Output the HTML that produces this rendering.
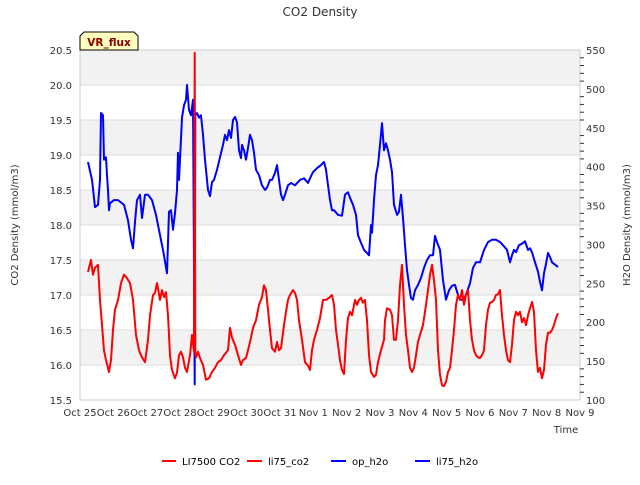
<!DOCTYPE html>
<html><head><meta charset="utf-8"><style>
body{margin:0;background:#fff}
svg{font-family:"DejaVu Sans","Liberation Sans",sans-serif}
</style></head><body>
<svg id="chart" width="640" height="480">
<text x="320" y="16" text-anchor="middle" font-size="12" fill="#333">CO2 Density</text>
<g id="bands"></g>
<g id="grid"></g>
<rect x="80" y="50" width="500" height="350" fill="none" stroke="#ccc"/>
<g id="axes"></g>
<g id="series"></g>
<text transform="translate(18,225) rotate(-90)" text-anchor="middle" font-size="10" fill="#333">CO2 Density (mmol/m3)</text>
<text transform="translate(630,225) rotate(-90)" text-anchor="middle" font-size="10" fill="#333">H2O Density (mmol/m3)</text>
<text x="566" y="433" text-anchor="middle" font-size="10" fill="#333">Time</text>
<g>
<path d="M80,50 L80,36 L84,32 L134,32 L138,36 L138,50 Z" fill="#ffffc0" stroke="#000"/>
<text x="109" y="46" text-anchor="middle" font-size="10.5" font-weight="bold" fill="#8b0000">VR_flux</text>
</g>
<g font-size="10">
<g><line x1="162" y1="461" x2="176" y2="461" stroke="#f00" stroke-width="2"/><text x="182" y="465">LI7500 CO2</text></g>
<g><line x1="247" y1="461" x2="262" y2="461" stroke="#f00" stroke-width="2"/><text x="268" y="465">li75_co2</text></g>
<g><line x1="331" y1="461" x2="346" y2="461" stroke="#00f" stroke-width="2"/><text x="352" y="465">op_h2o</text></g>
<g><line x1="415" y1="461" x2="430" y2="461" stroke="#00f" stroke-width="2"/><text x="436" y="465">li75_h2o</text></g>
</g>
</svg>
<script>
const xTickLabels=["Oct 25","Oct 26","Oct 27","Oct 28","Oct 29","Oct 30","Oct 31","Nov 1","Nov 2","Nov 3","Nov 4","Nov 5","Nov 6","Nov 7","Nov 8","Nov 9"];
const leftTicks=[15.5,16.0,16.5,17.0,17.5,18.0,18.5,19.0,19.5,20.0,20.5];
const rightTicks=[100,150,200,250,300,350,400,450,500,550];
const h2oDays=[0.24,0.36,0.45,0.54,0.60,0.63,0.69,0.72,0.78,0.81,0.84,0.87,0.90,1.02,1.14,1.32,1.44,1.53,1.59,1.65,1.71,1.80,1.86,1.95,2.04,2.16,2.28,2.40,2.49,2.61,2.67,2.73,2.79,2.85,2.91,2.94,2.97,3.06,3.12,3.18,3.21,3.27,3.33,3.39,3.44,3.46,3.51,3.57,3.63,3.69,3.75,3.84,3.90,3.96,4.02,4.11,4.20,4.29,4.35,4.41,4.47,4.53,4.59,4.65,4.71,4.77,4.83,4.86,4.92,4.98,5.04,5.10,5.16,5.22,5.28,5.37,5.46,5.55,5.61,5.70,5.76,5.85,5.91,5.97,6.03,6.09,6.15,6.24,6.33,6.45,6.60,6.72,6.84,6.90,6.99,7.11,7.23,7.32,7.38,7.44,7.50,7.56,7.62,7.74,7.86,7.95,8.04,8.10,8.19,8.28,8.34,8.43,8.52,8.61,8.67,8.73,8.76,8.82,8.88,8.94,9.00,9.06,9.12,9.18,9.24,9.30,9.36,9.42,9.51,9.57,9.63,9.69,9.75,9.81,9.87,9.93,9.99,10.05,10.14,10.23,10.32,10.41,10.50,10.59,10.65,10.71,10.80,10.89,10.98,11.07,11.16,11.25,11.37,11.43,11.52,11.61,11.70,11.79,11.88,12.00,12.12,12.24,12.36,12.48,12.60,12.69,12.81,12.90,12.96,13.02,13.08,13.17,13.26,13.35,13.44,13.50,13.56,13.65,13.74,13.80,13.86,13.92,13.98,14.04,14.10,14.16,14.25,14.34];
const h2oValues=[406,383,348,351,383,469,466,409,412,389,370,344,353,357,357,351,331,306,295,329,357,364,334,364,364,357,338,312,293,263,342,344,319,340,370,418,383,463,479,486,505,473,466,486,120,466,469,463,466,441,409,370,362,380,383,396,412,428,441,434,447,437,460,464,457,421,411,428,421,409,424,441,434,418,396,389,376,370,373,383,383,392,402,383,364,357,364,376,379,376,383,385,379,385,393,398,402,406,396,376,357,344,344,338,337,364,367,360,351,338,312,302,293,289,286,325,315,357,389,402,428,456,421,430,421,409,393,351,338,342,364,334,299,267,248,231,229,241,248,257,270,280,286,286,311,303,293,254,229,241,247,248,231,229,229,239,250,270,277,277,293,303,306,306,303,299,293,277,286,293,290,299,301,304,293,295,290,277,265,252,241,263,275,289,284,277,274,271];
const co2Days=[0.24,0.33,0.39,0.45,0.54,0.60,0.66,0.72,0.78,0.87,0.93,0.99,1.05,1.14,1.23,1.32,1.41,1.50,1.59,1.68,1.77,1.86,1.95,2.04,2.10,2.19,2.25,2.31,2.40,2.46,2.52,2.58,2.64,2.70,2.76,2.85,2.91,2.97,3.03,3.09,3.15,3.21,3.30,3.36,3.42,3.44,3.46,3.48,3.54,3.60,3.69,3.78,3.87,3.96,4.05,4.14,4.23,4.32,4.44,4.50,4.56,4.65,4.74,4.83,4.89,4.98,5.04,5.13,5.19,5.28,5.37,5.46,5.52,5.58,5.64,5.70,5.76,5.85,5.91,5.97,6.03,6.12,6.18,6.24,6.30,6.39,6.45,6.51,6.57,6.66,6.75,6.84,6.90,6.96,7.02,7.11,7.20,7.29,7.38,7.47,7.56,7.62,7.68,7.74,7.80,7.86,7.92,7.98,8.04,8.10,8.16,8.25,8.31,8.37,8.43,8.49,8.55,8.61,8.67,8.73,8.82,8.88,8.94,9.03,9.12,9.15,9.21,9.30,9.36,9.42,9.48,9.54,9.60,9.66,9.72,9.78,9.84,9.90,9.96,10.02,10.08,10.14,10.20,10.29,10.38,10.44,10.50,10.56,10.62,10.68,10.74,10.80,10.86,10.92,10.98,11.04,11.10,11.16,11.22,11.28,11.34,11.40,11.46,11.52,11.58,11.64,11.70,11.76,11.82,11.88,11.94,12.00,12.06,12.12,12.18,12.24,12.30,12.36,12.42,12.48,12.54,12.60,12.66,12.72,12.78,12.84,12.90,12.96,13.02,13.08,13.14,13.20,13.26,13.32,13.38,13.44,13.50,13.56,13.62,13.68,13.74,13.80,13.86,13.92,13.98,14.04,14.10,14.16,14.22,14.28,14.34];
const co2Values=[17.33,17.50,17.29,17.39,17.43,16.93,16.57,16.21,16.07,15.90,16.07,16.50,16.79,16.93,17.17,17.29,17.24,17.17,16.93,16.43,16.21,16.11,16.04,16.36,16.71,17.00,17.03,17.17,16.93,17.07,16.97,17.04,16.71,16.14,15.93,15.81,15.89,16.14,16.19,16.11,15.96,15.90,16.14,16.43,16.19,20.46,16.19,16.11,16.19,16.10,16.00,15.79,15.81,15.90,15.96,16.04,16.07,16.14,16.21,16.53,16.39,16.29,16.14,16.00,16.07,16.10,16.21,16.39,16.53,16.64,16.86,16.97,17.14,17.07,16.79,16.50,16.24,16.19,16.33,16.21,16.24,16.57,16.76,16.93,17.00,17.07,17.03,16.93,16.64,16.36,16.04,15.99,15.93,16.21,16.36,16.50,16.67,16.93,16.93,16.96,17.00,16.86,16.50,16.29,16.07,15.93,15.87,16.36,16.67,16.76,16.71,16.93,16.86,16.93,16.96,16.89,16.93,16.64,16.14,15.90,15.83,15.86,16.04,16.21,16.36,16.64,16.81,16.79,16.71,16.36,16.36,16.64,17.14,17.43,16.86,16.43,16.21,15.96,15.90,15.96,16.14,16.33,16.43,16.57,16.86,17.07,17.29,17.43,17.21,16.93,16.21,15.86,15.71,15.70,15.76,15.90,15.96,16.21,16.50,16.86,17.00,16.93,17.07,16.86,17.00,17.07,16.64,16.36,16.21,16.14,16.11,16.10,16.14,16.21,16.57,16.79,16.89,16.90,16.93,17.00,17.01,17.07,16.71,16.43,16.21,16.07,16.04,16.29,16.64,16.76,16.71,16.76,16.61,16.67,16.57,16.71,16.81,16.90,16.76,16.21,15.90,15.96,15.81,15.93,16.29,16.46,16.46,16.50,16.57,16.67,16.74];

const NS="http://www.w3.org/2000/svg";
const L=80,R=580,T=50,B=400;
const xS=d=>L+d*(R-L)/15;
const yL=v=>B-(v-15.5)*(B-T)/5;
const yR=v=>B-(v-100)*(B-T)/450;
function mk(tag,attrs,parent){const e=document.createElementNS(NS,tag);for(const k in attrs)e.setAttribute(k,attrs[k]);parent.appendChild(e);return e;}
const bands=document.getElementById('bands'),grid=document.getElementById('grid'),axes=document.getElementById('axes'),series=document.getElementById('series');
for(let v=16.0;v<20.5;v+=1.0){
  const r=mk('rect',{x:L,y:yL(v+0.5),width:R-L,height:yL(v)-yL(v+0.5),fill:'#f2f2f2'},bands);
  
  
}
leftTicks.forEach(v=>{
  const g=mk('line',{x1:L,x2:R,y1:yL(v),y2:yL(v),stroke:'#ddd'},grid);
  
  
  const t=mk('text',{x:L-8,y:yL(v)+4,'text-anchor':'end','font-size':10,fill:'#333'},axes);
  t.textContent=v.toFixed(1);
  
  
});
rightTicks.forEach(v=>{
  const t=mk('text',{x:R+6,y:yR(v)+4,'font-size':10,fill:'#333'},axes);
  t.textContent=v;
  
  
});
for(let v=100;v<=550;v+=10){
  const big=v%50===0;
  const m=mk('line',{x1:R,x2:R+(big?0:4),y1:yR(v),y2:yR(v),stroke:'#333'},axes);
  
  
}
xTickLabels.forEach((s,i)=>{
  const t=mk('text',{x:xS(i),y:416,'text-anchor':'middle','font-size':10,fill:'#333'},axes);
  t.textContent=s;
  
  
});
function pathOf(days,vals,ys){return days.map((d,i)=>(i?'L':'M')+xS(d).toFixed(1)+','+ys(vals[i]).toFixed(1)).join(' ');}
const pb=mk('path',{d:pathOf(h2oDays,h2oValues,yR),fill:'none',stroke:'#00f','stroke-width':2,'stroke-linejoin':'round'},series);


const pr=mk('path',{d:pathOf(co2Days,co2Values,yL),fill:'none',stroke:'#f00','stroke-width':2,'stroke-linejoin':'round'},series);


</script>
</body></html>
